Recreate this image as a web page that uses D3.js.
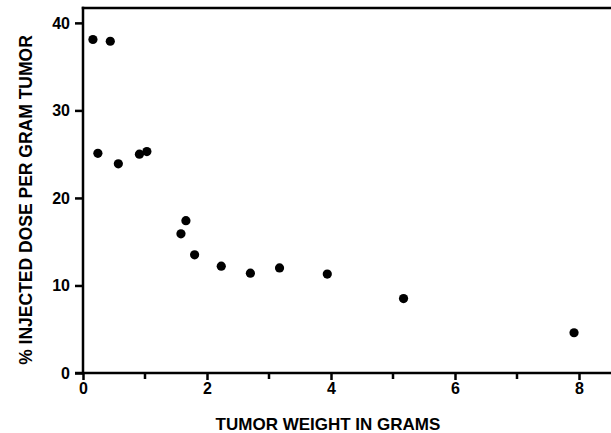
<!DOCTYPE html>
<html>
<head>
<meta charset="utf-8">
<script src="https://cdn.jsdelivr.net/npm/d3@7"></script>
<style>
  body { margin: 0; background: #fff; }
  svg text { font-family: "Liberation Sans", Arial, Helvetica, sans-serif; font-weight: bold; fill: #000; }
</style>
</head>
<body>
<div id="chart"></div>
<script>
// tumor weight (g) vs % injected dose per gram tumor
const weights = [0.16, 0.44, 0.24, 0.57, 0.91, 1.03, 1.66, 1.58, 1.80, 2.23, 2.70, 3.17, 3.94, 5.17, 7.92];
const doses = [38.1, 37.9, 25.1, 23.9, 25.0, 25.3, 17.4, 15.9, 13.5, 12.2, 11.4, 12.0, 11.3, 8.5, 4.6];
const xTicks = [0, 2, 4, 6, 8];
const xMinorTicks = [1, 3, 5, 7];
const yTicks = [0, 10, 20, 30, 40];

const width = 611;
const height = 433;
const margin = { top: 8, right: 0, bottom: 60, left: 83 };
const lw = 2.5; // line weight of the frame

const svg = d3.select('#chart')
  .append('svg')
  .attr('width', width)
  .attr('height', height);

const x = d3.scaleLinear().domain([0, 8.5]).range([margin.left, margin.left + 8.5 * 62]);
const y = d3.scaleLinear().domain([0, 41.7]).range([height - margin.bottom, margin.top]);

// axis lines drawn as filled rects
const frame = svg.append('g').attr('fill', '#000');
frame.append('rect') // top border
  .attr('x', x(0) - lw / 2).attr('y', y(41.7) - lw / 2)
  .attr('width', width - x(0) + lw / 2).attr('height', lw);
frame.append('rect') // y axis
  .attr('x', x(0) - lw / 2).attr('y', y(41.7) - lw / 2)
  .attr('width', lw).attr('height', y(0) - y(41.7) + lw);
frame.append('rect') // x axis
  .attr('x', x(0) - 8).attr('y', y(0) - lw / 2)
  .attr('width', width - x(0) + 8).attr('height', lw);

// x axis
const xAxis = svg.append('g')
  .attr('transform', `translate(0,${y(0)})`)
  .call(d3.axisBottom(x).tickValues(xTicks).tickSize(6).tickPadding(4).tickFormat(d3.format('d')));
xAxis.select('.domain').remove();
xAxis.selectAll('.tick line').remove();
xAxis.selectAll('.tick').append('rect')
  .attr('x', -lw / 2).attr('y', 0).attr('width', lw).attr('height', 7).attr('fill', '#000');
xAxis.selectAll('text').style('font-size', '16px');

frame.selectAll('.minor')
  .data(xMinorTicks)
  .enter()
  .append('rect')
  .attr('class', 'minor')
  .attr('x', (d) => x(d) - lw / 2).attr('y', y(0))
  .attr('width', lw).attr('height', 6);

// y axis
const yAxis = svg.append('g')
  .attr('transform', `translate(${x(0)},0)`)
  .call(d3.axisLeft(y).tickValues(yTicks).tickSize(7).tickPadding(6));
yAxis.select('.domain').remove();
yAxis.selectAll('.tick line').remove();
yAxis.selectAll('.tick').append('rect')
  .attr('x', -8).attr('y', -lw / 2).attr('width', 8).attr('height', lw).attr('fill', '#000');
yAxis.selectAll('text').style('font-size', '16px');

// axis titles
svg.append('text')
  .attr('x', 328)
  .attr('y', 430)
  .style('text-anchor', 'middle')
  .style('font-size', '17px')
  .text('TUMOR WEIGHT IN GRAMS');

svg.append('text')
  .attr('transform', 'translate(32,200) rotate(-90)')
  .style('text-anchor', 'middle')
  .style('font-size', '17.5px')
  .text('% INJECTED DOSE PER GRAM TUMOR');

// points
svg.selectAll('circle')
  .data(weights.map((w, i) => ({ w, d: doses[i] })))
  .enter()
  .append('circle')
  .attr('cx', (p) => x(p.w))
  .attr('cy', (p) => y(p.d))
  .attr('r', 4.6)
  .attr('fill', '#000');
</script>
</body>
</html>
